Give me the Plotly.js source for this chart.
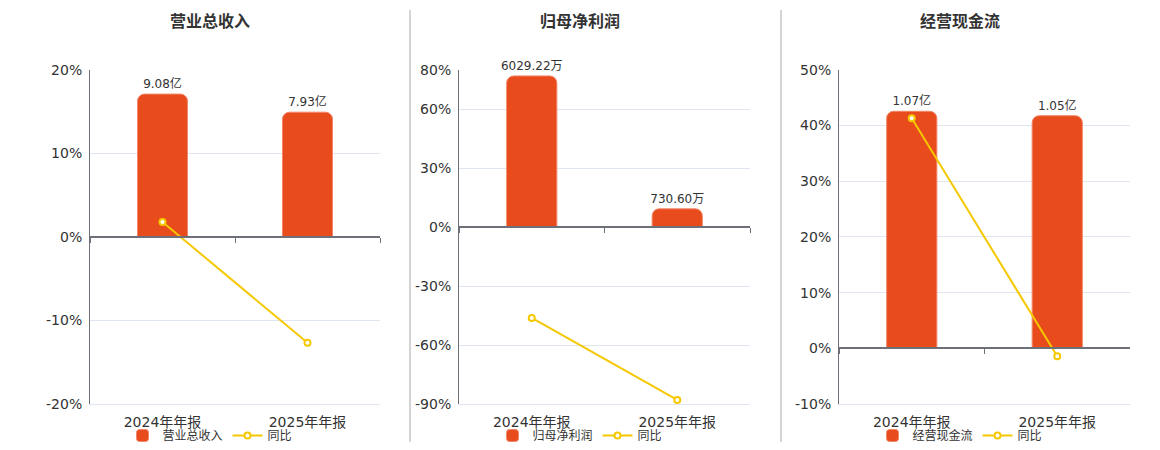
<!DOCTYPE html>
<html>
<head>
<meta charset="utf-8">
<script src="https://cdn.plot.ly/plotly-3.0.1.min.js"></script>
<style>
  html, body { margin: 0; padding: 0; background: #fff; }
  #chart { width: 1160px; height: 450px; }
</style>
</head>
<body>
<div id="chart"></div>
<script>
// ---- data ----
const categories = ['2024年年报', '2025年年报'];
const titles = ['营业总收入', '归母净利润', '经营现金流'];

const revenueValues = [9.08, 7.93];
const revenueLabels = ['9.08亿', '7.93亿'];
const revenueYoy = [1.8, -12.67];

const profitValues = [6029.22, 730.60];
const profitLabels = ['6029.22万', '730.60万'];
const profitYoy = [-46.2, -87.88];

const cashValues = [1.07, 1.05];
const cashLabels = ['1.07亿', '1.05亿'];
const cashYoy = [41.3, -1.4];

const revenueTicks = [-20, -10, 0, 10, 20];
const profitTicks = [-90, -60, -30, 0, 30, 60, 80];
const cashTicks = [-10, 0, 10, 20, 30, 40, 50];

const yoyName = '同比';

// ---- layout config ----
const W = 1160, H = 450;
const plotTop = 70, plotBottom = 405;
const panels = [
  { title: titles[0], values: revenueValues, labels: revenueLabels, yoy: revenueYoy, ticks: revenueTicks,
    x0: 90, x1: 380, center: 210, barTop: 10.62 },
  { title: titles[1], values: profitValues, labels: profitLabels, yoy: profitYoy, ticks: profitTicks,
    x0: 459, x1: 750, center: 580, barTop: 6272 },
  { title: titles[2], values: cashValues, labels: cashLabels, yoy: cashYoy, ticks: cashTicks,
    x0: 839, x1: 1130, center: 960, barTop: 1.257 }
];
const separators = [410, 781];

const FONT = 'DejaVu Sans, "Noto Sans CJK SC", sans-serif';
const BAR_COLOR = '#E84B1C';
const LINE_COLOR = '#F5C800';
const AXIS_COLOR = '#6E7079';
const GRID_COLOR = '#E0E6F1';
const TEXT_COLOR = '#333333';

const yDom = [1 - plotBottom / H, 1 - plotTop / H];
const traces = [];
const layout = {
  width: W, height: H,
  margin: { l: 0, r: 0, t: 0, b: 0 },
  paper_bgcolor: '#fff', plot_bgcolor: 'rgba(0,0,0,0)',
  font: { family: FONT, color: TEXT_COLOR },
  annotations: [], shapes: [],
  showlegend: true,
  hovermode: false
};

panels.forEach((p, i) => {
  const mainN = 2 * i + 1, ovN = 2 * i + 2;
  const mainId = mainN === 1 ? '' : String(mainN);
  const ovId = String(ovN);
  const legendId = i === 0 ? 'legend' : 'legend' + (i + 1);
  const pmin = Math.min(...p.ticks), pmax = Math.max(...p.ticks);
  const xDom = [p.x0 / W, p.x1 / W];
  const zeroFrac = yDom[0] + (0 - pmin) / (pmax - pmin) * (yDom[1] - yDom[0]);
  const barMin = pmin / pmax * p.barTop;

  traces.push({
    type: 'bar', name: p.title, x: categories, y: p.values,
    xaxis: 'x' + mainId, yaxis: 'y' + mainId, legend: legendId,
    width: 0.345,
    marker: { color: BAR_COLOR, line: { color: '#F2876A', width: 1 }, cornerradius: 7 },
    text: p.labels, textposition: 'outside', cliponaxis: false, constraintext: 'none',
    textfont: { size: 12, color: TEXT_COLOR, family: FONT }
  });
  traces.push({
    type: 'scatter', mode: 'lines+markers', name: yoyName, x: categories, y: p.yoy,
    xaxis: 'x' + ovId, yaxis: 'y' + ovId, legend: legendId, cliponaxis: false,
    line: { color: LINE_COLOR, width: 2 },
    marker: { symbol: 'circle', size: 6, color: '#ffffff', line: { color: LINE_COLOR, width: 2 } }
  });

  layout['xaxis' + mainId] = {
    type: 'category', domain: xDom, range: [-0.5, 1.5],
    anchor: 'free', position: zeroFrac,
    showline: true, linecolor: AXIS_COLOR, linewidth: 2,
    ticks: 'outside', ticklen: 5, tickwidth: 1, tickcolor: AXIS_COLOR, tickson: 'boundaries',
    showticklabels: false, showgrid: false, zeroline: false, fixedrange: true
  };
  layout['yaxis' + mainId] = {
    domain: yDom, range: [barMin, p.barTop], visible: false, anchor: 'x' + mainId,
    showgrid: false, zeroline: false, fixedrange: true
  };
  layout['xaxis' + ovId] = {
    type: 'category', domain: xDom, range: [-0.5, 1.5], overlaying: 'x' + mainId,
    anchor: 'y' + ovId, side: 'bottom',
    showline: true, linecolor: GRID_COLOR, linewidth: 1, ticks: '', showgrid: false, zeroline: false,
    tickfont: { size: 14, color: TEXT_COLOR, family: FONT }, ticklabelstandoff: 5, fixedrange: true
  };
  layout['yaxis' + ovId] = {
    domain: yDom, range: [pmin, pmax], overlaying: 'y' + mainId, anchor: 'x' + ovId, side: 'left',
    tickmode: 'array', tickvals: p.ticks, ticktext: p.ticks.map(v => v + '%'),
    showline: true, linecolor: AXIS_COLOR, linewidth: 1,
    showgrid: true, gridcolor: GRID_COLOR, gridwidth: 1, zeroline: false, ticks: '',
    tickfont: { size: 14, color: TEXT_COLOR, family: FONT }, ticklabelstandoff: 4, fixedrange: true
  };
  layout[legendId] = {
    orientation: 'h', x: p.center / W, xanchor: 'center', y: 1 - 436 / H, yanchor: 'middle',
    bgcolor: 'rgba(0,0,0,0)', font: { size: 12, color: TEXT_COLOR, family: FONT },
    itemwidth: 30, tracegroupgap: 0
  };
  layout.annotations.push({
    xref: 'paper', yref: 'paper', x: p.center / W, y: 1 - 22 / H, xanchor: 'center', yanchor: 'middle',
    text: '<b>' + p.title + '</b>', showarrow: false,
    font: { size: 16, color: TEXT_COLOR, family: FONT }
  });
});

separators.forEach(sx => {
  layout.shapes.push({
    type: 'line', xref: 'paper', yref: 'paper',
    x0: sx / W, x1: sx / W, y0: 1 - 443 / H, y1: 1 - 10 / H,
    line: { color: '#AAAAAA', width: 1 }
  });
});

Plotly.newPlot('chart', traces, layout, { displayModeBar: false, staticPlot: true });
</script>
</body>
</html>
